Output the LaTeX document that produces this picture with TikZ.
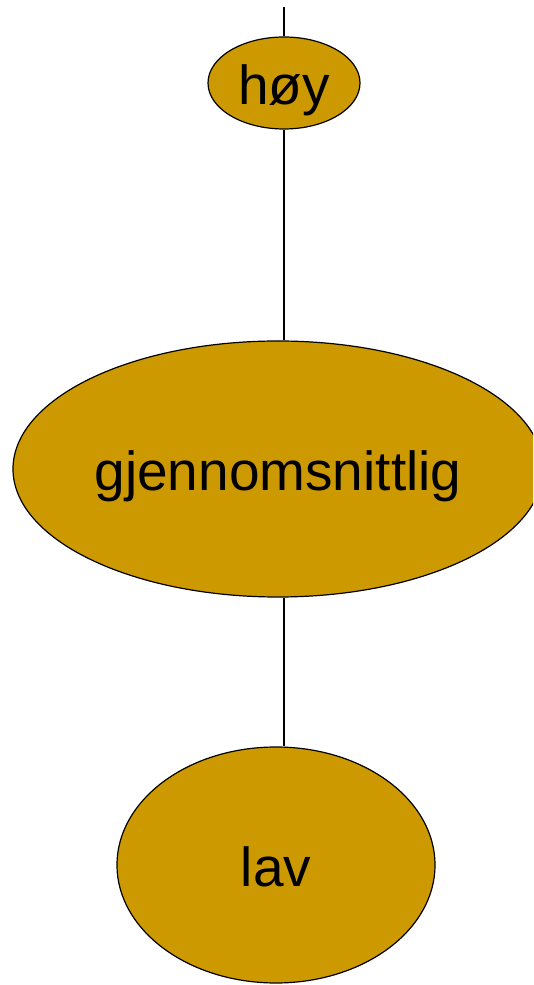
\documentclass[tikz,border=0pt]{standalone}
\usepackage{fontspec}
\setmainfont{Liberation Sans}
\usetikzlibrary{shapes.geometric}
\definecolor{gold}{HTML}{CC9900}
\tikzset{
  level/.style={ellipse, draw=black, line width=1.2pt, fill=gold, inner sep=0pt,
    text height=44pt, text depth=0pt,
    font=\fontsize{55}{62}\selectfont},
  link/.style={draw=black, line width=1.2pt}
}
\begin{document}
\begin{tikzpicture}[x=1pt,y=1pt]
  \useasboundingbox (0,0) rectangle (533,985);
  \clip (0,0) rectangle (533,985);
  \coordinate (axis) at (284,0);
  \coordinate (top) at (284,978);
  \node[level, minimum width=152pt, minimum height=92pt] (hoy) at (284,902) {høy};
  \node[level, minimum width=530pt, minimum height=256pt] (mid) at (278,516) {gjennomsnittlig};
  \node[level, minimum width=318pt, minimum height=236pt] (lav) at (276,120) {lav};
  \draw[link] (top) -- (hoy.north -| axis);
  \draw[link] (hoy.south -| axis) -- (mid.north -| axis);
  \draw[link] (mid.south -| axis) -- (lav.north -| axis);
\end{tikzpicture}
\end{document}
